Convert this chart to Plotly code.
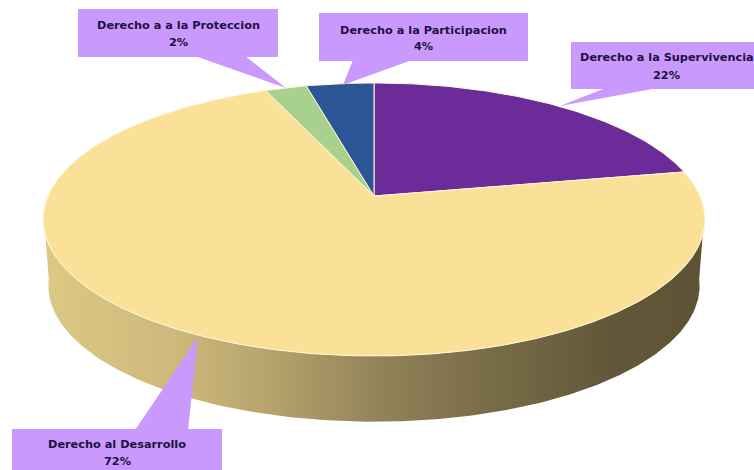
import numpy as np
import plotly.graph_objects as go

# Data
categories = ["Derecho a la Supervivencia", "Derecho al Desarrollo", "Derecho a a la Proteccion", "Derecho a la Participacion"]
values = [22.0, 71.7, 2.4, 3.9]
colors = ["#6B2C9A", "#FAE197", "#A9D18E", "#2C5596"]

BOX = "#C999FD"
TEXT = "#1E1040"

CX, CY, A_X, A_Y, K = 374.0, 196.0, 326.0, 132.5, 0.172


def project(theta, cx=CX, cy=CY, ax=A_X, ay=A_Y, k=K):
    """theta in radians, clockwise from the top of the disc; perspective map."""
    u, v = np.sin(theta), np.cos(theta)
    d = 1 + k * v
    return cx + ax * u / d, cy - ay * v / d


fig = go.Figure()

# Side wall: from the left visible edge, around the front, to the right edge
t_top = np.radians(np.linspace(263, 97, 300))
xt, yt = project(t_top)
t_low = np.radians(np.linspace(97, 263, 300))
xl, yl = project(t_low, cy=CY + 66.5, ax=A_X * 0.984, ay=A_Y * 0.995)
fig.add_trace(go.Scatter(
    x=np.concatenate([xt, xl]), y=np.concatenate([yt, yl]),
    mode="lines", line=dict(width=0), fill="toself",
    fillgradient=dict(type="horizontal", colorscale=[
        [0.0, "#DCC985"], [0.2, "#CDB97B"], [0.35, "#B5A26B"], [0.5, "#93845A"],
        [0.65, "#7C6F4A"], [0.85, "#625839"], [1.0, "#5E5435"]]),
    hoverinfo="skip", showlegend=False))

# Top face slices, computed from the values
start = 0.0
total = sum(values)
for name, val, col in zip(categories, values, colors):
    a0 = start / total * 2 * np.pi
    a1 = (start + val) / total * 2 * np.pi
    start += val
    th = np.linspace(a0, a1, max(12, int(val * 6)))
    x, y = project(th)
    fig.add_trace(go.Scatter(
        x=np.r_[CX, x, CX], y=np.r_[CY, y, CY],
        mode="lines", line=dict(color="#FFF8DC", width=1), fill="toself", fillcolor=col,
        name=name, hoverinfo="name", showlegend=False))

# Callouts: box plus pointer
callouts = [
    (571, 756, 42, 89, "M603,89 L652,89 L560,106 Z", 666.5, 57.5, 75.5, 0),
    (12, 222, 429, 472, "M135,430 L188,430 L198,337 Z", 117, 444.5, 461.5, 1),
    (78, 278, 9, 57, "M195,56 L245,56 L286,88 Z", 178, 25.5, 42.5, 2),
    (319, 528, 13, 61, "M353,60 L412,60 L343,85 Z", 423, 30.5, 46.5, 3),
]
shapes = []
annotations = []
for l, r, t, b, path, tx, y1, y2, i in callouts:
    shapes.append(dict(type="rect", xref="x", yref="y", x0=l, x1=r, y0=t, y1=b,
                       fillcolor=BOX, line_width=0, layer="above"))
    shapes.append(dict(type="path", xref="x", yref="y", path=path,
                       fillcolor=BOX, line_width=0, layer="above"))
    for yy, txt in ((y1, categories[i]), (y2, f"{round(values[i])}%")):
        annotations.append(dict(x=tx, y=yy, xref="x", yref="y", text=f"<b>{txt}</b>",
                                showarrow=False, xanchor="center", yanchor="middle",
                                font=dict(family="DejaVu Sans", size=11.3, color=TEXT)))

fig.update_layout(
    width=754, height=470, margin=dict(l=0, r=0, t=0, b=0),
    paper_bgcolor="white", plot_bgcolor="white", showlegend=False,
    xaxis=dict(range=[0, 754], visible=False, fixedrange=True),
    yaxis=dict(range=[470, 0], visible=False, fixedrange=True),
    shapes=shapes, annotations=annotations,
)

fig.write_html("out.html", config={"displayModeBar": False},
               post_script="document.body.style.margin='0';document.body.style.overflow='hidden';")
